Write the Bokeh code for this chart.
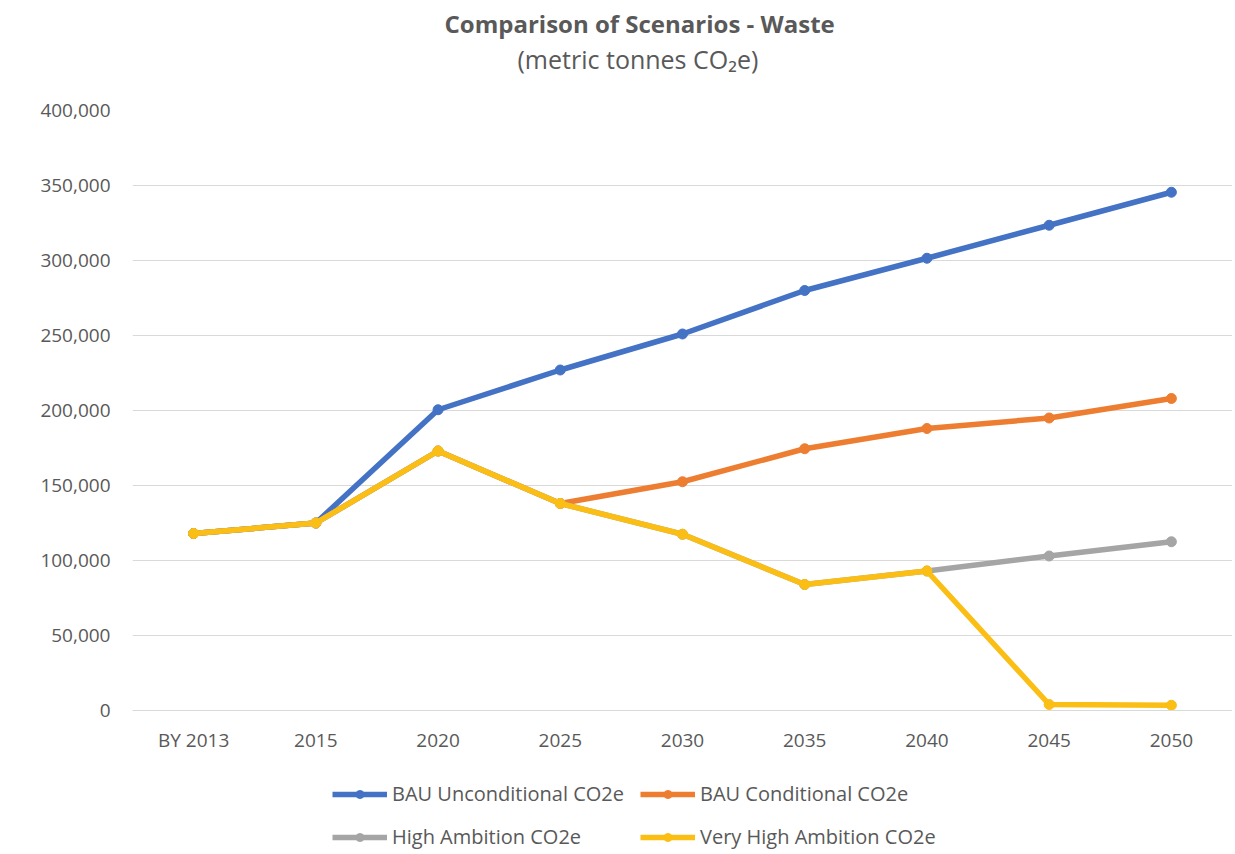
from bokeh.plotting import figure
from bokeh.models import (FactorRange, Range1d, NumeralTickFormatter, Legend,
                          LegendItem, Title, FixedTicker)
from bokeh.embed import file_html
from bokeh.resources import INLINE

# ---- data ----
categories = ["BY 2013", "2015", "2020", "2025", "2030", "2035", "2040", "2045", "2050"]
bau_unconditional = [118000, 125000, 200500, 227000, 251000, 280000, 301500, 323500, 345500]
bau_conditional = [118000, 125000, 173000, 138000, 152500, 174500, 188000, 195000, 208000]
high_ambition = [118000, 125000, 173000, 138000, 117500, 84000, 93000, 103000, 112500]
very_high_ambition = [118000, 125000, 173000, 138000, 117500, 84000, 93000, 4000, 3500]
series_names = ["BAU Unconditional CO2e", "BAU Conditional CO2e",
                "High Ambition CO2e", "Very High Ambition CO2e"]
series_colors = ["#4472C4", "#ED7D31", "#A5A5A5", "#FBBE14"]
y_ticks = [0, 50000, 100000, 150000, 200000, 250000, 300000, 350000, 400000]
title_text = "Comparison of Scenarios - Waste"
subtitle_text = "(metric tonnes CO\u2082e)"

FONT = "Open Sans"
TEXT_COLOR = "#595959"

# frame spans 110..852 px; 0..400,000 occupies the top 600 px,
# the space below y=0 holds the category labels and the legend
FRAME_H = 742
Y_MAX = 400000
Y_MIN = -Y_MAX * (FRAME_H - 600) / 600

p = figure(width=1232, height=852,
           x_range=FactorRange(*categories), y_range=Range1d(Y_MIN, Y_MAX),
           output_backend="svg", toolbar_location=None, title=None,
           min_border_left=132, min_border_right=0,
           min_border_top=110, min_border_bottom=0)

# spacer (closest to the frame), then subtitle, then main title
p.add_layout(Title(text=" ", text_font_size="1px", standoff=32), "above")
p.add_layout(Title(text=subtitle_text, align="left", offset=385, text_font=FONT,
                   text_font_size="25px", text_font_style="normal",
                   text_color=TEXT_COLOR, standoff=0), "above")
p.add_layout(Title(text=title_text, align="left", offset=312, text_font=FONT,
                   text_font_size="24px", text_font_style="bold",
                   text_color=TEXT_COLOR, standoff=0), "above")

p.outline_line_color = None
p.background_fill_color = "white"
p.border_fill_color = "white"

p.xgrid.grid_line_color = None
p.ygrid.grid_line_color = "#D9D9D9"
p.ygrid.grid_line_width = 1
p.ygrid.ticker = FixedTicker(ticks=y_ticks)

p.yaxis.ticker = FixedTicker(ticks=y_ticks)
p.yaxis.formatter = NumeralTickFormatter(format="0,0")
p.yaxis.axis_line_color = None
p.yaxis.major_tick_line_color = None
p.yaxis.minor_tick_line_color = None
p.yaxis.major_tick_out = 0
p.yaxis.major_tick_in = 0
p.yaxis.major_label_standoff = 22
p.yaxis.major_label_text_font = FONT
p.yaxis.major_label_text_font_size = "19px"
p.yaxis.major_label_text_color = TEXT_COLOR

p.xaxis.fixed_location = 0
p.xaxis.axis_line_color = "#D9D9D9"
p.xaxis.axis_line_width = 1
p.xaxis.major_tick_line_color = None
p.xaxis.minor_tick_line_color = None
p.xaxis.major_tick_out = 0
p.xaxis.major_tick_in = 0
p.xaxis.major_label_standoff = 16
p.xaxis.major_label_text_font = FONT
p.xaxis.major_label_text_font_size = "19px"
p.xaxis.major_label_text_color = TEXT_COLOR

items = []
for name, vals, col in zip(series_names,
                           [bau_unconditional, bau_conditional, high_ambition, very_high_ambition],
                           series_colors):
    ln = p.line(x=categories, y=vals, line_color=col, line_width=5.5, line_join="round")
    sc = p.scatter(x=categories, y=vals, size=10, fill_color=col, line_color=col)
    items.append(LegendItem(label=name, renderers=[ln, sc]))

legend = Legend(items=items, location=(200, 2), ncols=2, orientation="horizontal",
                glyph_width=55, glyph_height=20, label_standoff=5, spacing=16,
                padding=0, margin=0, border_line_color=None, background_fill_alpha=0,
                label_text_font=FONT, label_text_font_size="20px",
                label_text_color=TEXT_COLOR)
p.add_layout(legend)

open("out.html", "w").write(file_html(p, INLINE))
